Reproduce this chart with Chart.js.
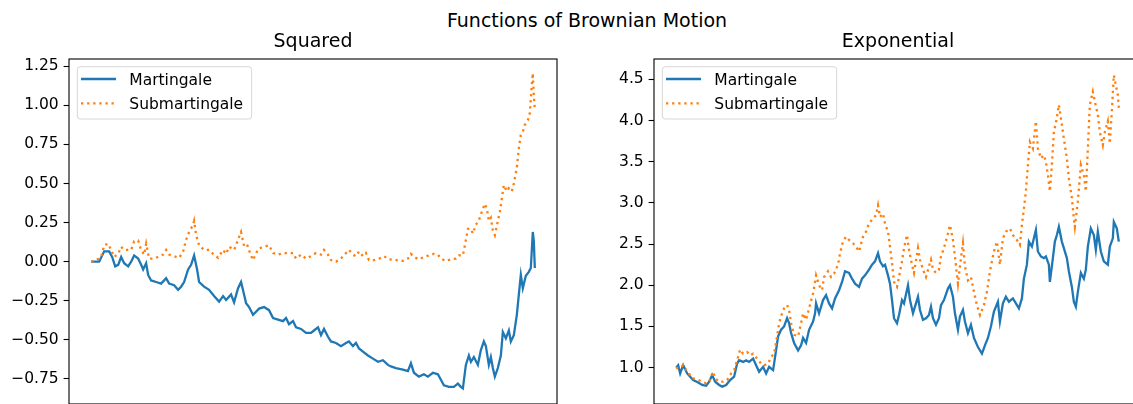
<!DOCTYPE html>
<html>
<head>
<meta charset="utf-8">
<title>Functions of Brownian Motion</title>
<script src="https://cdn.jsdelivr.net/npm/chart.js@4.4.0/dist/chart.umd.min.js"></script>
<style>
    html, body { margin: 0; padding: 0; background: #fff; overflow: hidden; }
    body { width: 1133px; height: 404px; position: relative; font-family: 'DejaVu Sans', sans-serif; }
    #suptitle { position: absolute; left: 587px; top: 9px; transform: translateX(-50%); font-size: 19px; line-height: 22px; color: #000; white-space: nowrap; }
    canvas { position: absolute; top: 0; }
    #chart-squared { left: 0; }
    #chart-exp { left: 585px; }
</style>
</head>
<body>
<div id="suptitle"></div>
<canvas id="chart-squared" width="600" height="420"></canvas>
<canvas id="chart-exp" width="600" height="420"></canvas>
<script>
// Data
// -----------------------------------
var figureTitle = 'Functions of Brownian Motion';
var panelTitles = ['Squared', 'Exponential'];
var seriesNames = ['Martingale', 'Submartingale'];
var seriesColors = ['#1f77b4', '#ff7f0e'];

var sqMartSteps = [0, 8, 13, 18, 21, 24, 27, 30, 33, 37, 40, 43, 47, 50, 52, 55, 57, 60, 65, 70, 75, 78, 83, 87, 90, 93, 97, 100, 103, 106, 108, 113, 118, 123, 128, 132, 135, 140, 143, 147, 150, 153, 155, 158, 162, 165, 168, 173, 178, 182, 187, 192, 195, 198, 202, 205, 210, 215, 220, 223, 227, 230, 233, 237, 240, 245, 250, 255, 258, 262, 265, 268, 272, 277, 282, 287, 292, 297, 300, 305, 312, 317, 320, 323, 328, 333, 337, 342, 347, 350, 353, 358, 363, 367, 370, 372, 375, 378, 380, 383, 387, 390, 393, 395, 398, 400, 402, 404, 407, 410, 412, 415, 418, 420, 423, 426, 428, 430, 432, 435, 438, 440, 442, 443, 444];
var sqMartValues = [0, 0, 0.066, 0.066, 0.03, -0.03, -0.02, 0.03, -0.01, -0.03, 0, 0.04, 0.02, -0.02, -0.05, -0.01, -0.085, -0.12, -0.13, -0.14, -0.105, -0.14, -0.15, -0.18, -0.16, -0.13, -0.05, -0.02, 0.04, -0.05, -0.13, -0.16, -0.18, -0.22, -0.255, -0.22, -0.245, -0.21, -0.26, -0.17, -0.13, -0.21, -0.265, -0.29, -0.34, -0.32, -0.30, -0.29, -0.31, -0.36, -0.37, -0.38, -0.36, -0.40, -0.38, -0.42, -0.43, -0.455, -0.455, -0.44, -0.42, -0.47, -0.43, -0.48, -0.51, -0.52, -0.54, -0.52, -0.51, -0.54, -0.52, -0.555, -0.575, -0.60, -0.62, -0.64, -0.63, -0.66, -0.67, -0.68, -0.69, -0.70, -0.65, -0.71, -0.735, -0.72, -0.735, -0.71, -0.72, -0.755, -0.79, -0.80, -0.80, -0.78, -0.80, -0.81, -0.66, -0.60, -0.64, -0.61, -0.66, -0.565, -0.51, -0.54, -0.66, -0.61, -0.68, -0.735, -0.68, -0.60, -0.45, -0.49, -0.44, -0.51, -0.47, -0.34, -0.21, -0.085, -0.17, -0.09, -0.065, -0.04, 0.19, 0.13, -0.04];

var sqSubSteps = [0, 5, 10, 13, 17, 20, 23, 27, 30, 33, 37, 40, 43, 47, 50, 53, 55, 58, 62, 67, 72, 75, 78, 83, 88, 92, 95, 98, 102, 103, 105, 108, 113, 118, 122, 127, 132, 135, 138, 143, 147, 150, 153, 156, 159, 162, 165, 168, 173, 178, 182, 187, 192, 197, 202, 205, 210, 215, 220, 225, 230, 233, 237, 240, 245, 250, 255, 258, 262, 265, 268, 272, 275, 278, 283, 288, 293, 298, 305, 312, 317, 320, 323, 328, 333, 338, 343, 347, 350, 355, 360, 365, 368, 372, 374, 377, 380, 382, 385, 388, 391, 394, 396, 398, 400, 402, 404, 407, 409, 411, 413, 416, 418, 421, 423, 426, 428, 430, 432, 434, 437, 439, 441, 442, 443, 444];
var sqSubValues = [0, 0.01, 0.03, 0.105, 0.115, 0.075, 0.03, 0.05, 0.095, 0.075, 0.075, 0.075, 0.13, 0.135, 0.075, 0.045, 0.115, 0.02, 0.02, 0.03, 0.045, 0.075, 0.045, 0.035, 0.025, 0.065, 0.14, 0.19, 0.235, 0.26, 0.17, 0.105, 0.075, 0.075, 0.05, 0.025, 0.075, 0.05, 0.095, 0.075, 0.14, 0.19, 0.10, 0.11, 0.055, 0.01, 0.055, 0.085, 0.095, 0.105, 0.055, 0.045, 0.055, 0.055, 0.055, 0.02, 0.045, 0.02, 0.035, 0.055, 0.045, 0.075, 0.045, 0.01, 0.0, 0.02, 0.055, 0.075, 0.045, 0.035, 0.065, 0.035, 0.055, 0.01, 0.01, 0.02, 0.035, 0.015, 0.01, 0.005, 0.02, 0.05, 0.03, 0.015, 0.03, 0.04, 0.05, 0.045, 0.02, 0.005, 0.015, 0.02, 0.04, 0.04, 0.105, 0.21, 0.21, 0.18, 0.235, 0.265, 0.32, 0.37, 0.34, 0.26, 0.28, 0.20, 0.17, 0.26, 0.32, 0.405, 0.49, 0.45, 0.47, 0.45, 0.50, 0.60, 0.725, 0.81, 0.83, 0.875, 0.905, 0.95, 1.13, 1.205, 1.065, 0.97];

var expMartSteps = [0, 2, 4, 7, 11, 14, 17, 22, 26, 30, 33, 36, 39, 43, 46, 50, 54, 58, 61, 63, 67, 70, 73, 77, 80, 83, 87, 90, 93, 97, 99, 102, 105, 108, 111, 113, 115, 118, 122, 125, 127, 130, 133, 137, 139, 140, 143, 147, 150, 153, 156, 159, 163, 166, 169, 173, 176, 179, 183, 186, 189, 193, 196, 199, 202, 204, 207, 209, 212, 214, 216, 218, 221, 223, 226, 228, 232, 234, 237, 239, 242, 244, 247, 250, 253, 255, 257, 260, 263, 265, 268, 272, 274, 277, 279, 282, 284, 287, 289, 292, 295, 298, 302, 306, 309, 312, 315, 318, 322, 324, 327, 330, 333, 337, 340, 343, 346, 348, 351, 353, 356, 358, 360, 362, 365, 368, 370, 373, 374, 377, 379, 381, 383, 386, 388, 391, 393, 396, 398, 400, 402, 405, 408, 410, 412, 415, 418, 420, 422, 425, 428, 432, 434, 437, 438, 441, 443];
var expMartValues = [1.0, 1.03, 0.93, 1.03, 0.93, 0.89, 0.85, 0.82, 0.79, 0.78, 0.83, 0.91, 0.83, 0.79, 0.77, 0.79, 0.85, 0.89, 1.05, 1.09, 1.07, 1.09, 1.07, 1.11, 1.03, 0.95, 1.01, 0.93, 1.01, 0.97, 1.13, 1.38, 1.46, 1.50, 1.60, 1.54, 1.42, 1.30, 1.21, 1.27, 1.36, 1.30, 1.46, 1.56, 1.66, 1.78, 1.66, 1.82, 1.88, 1.78, 1.72, 1.84, 1.94, 2.04, 2.17, 2.15, 2.08, 2.02, 1.98, 2.08, 2.12, 2.19, 2.25, 2.29, 2.39, 2.29, 2.23, 2.25, 2.12, 2.02, 1.82, 1.60, 1.54, 1.64, 1.82, 1.78, 2.00, 1.82, 1.66, 1.74, 1.86, 1.70, 1.58, 1.60, 1.64, 1.74, 1.60, 1.52, 1.60, 1.76, 1.82, 1.96, 2.00, 1.86, 1.66, 1.46, 1.62, 1.70, 1.56, 1.42, 1.52, 1.36, 1.25, 1.17, 1.27, 1.36, 1.50, 1.68, 1.80, 1.56, 1.78, 1.86, 1.80, 1.84, 1.78, 1.72, 1.84, 2.08, 2.25, 2.53, 2.47, 2.57, 2.67, 2.41, 2.35, 2.33, 2.35, 2.25, 2.04, 2.33, 2.53, 2.61, 2.71, 2.53, 2.45, 2.33, 2.17, 1.98, 1.80, 1.74, 1.92, 2.15, 2.08, 2.19, 2.47, 2.69, 2.61, 2.43, 2.65, 2.41, 2.29, 2.25, 2.47, 2.57, 2.77, 2.69, 2.53];

var expSubSteps = [0, 3, 7, 11, 14, 17, 22, 26, 30, 33, 37, 39, 43, 47, 51, 55, 58, 62, 64, 67, 71, 74, 77, 81, 85, 88, 92, 95, 98, 101, 103, 106, 108, 111, 113, 115, 118, 122, 125, 127, 130, 133, 137, 139, 140, 143, 146, 148, 152, 155, 158, 162, 164, 167, 170, 173, 177, 180, 183, 187, 190, 193, 197, 200, 202, 204, 207, 209, 212, 214, 216, 218, 221, 223, 226, 228, 231, 233, 236, 238, 242, 244, 247, 250, 253, 255, 257, 260, 263, 265, 268, 272, 274, 277, 279, 282, 284, 287, 289, 292, 295, 298, 301, 304, 308, 311, 314, 318, 321, 324, 327, 330, 334, 337, 340, 344, 346, 348, 350, 352, 354, 357, 360, 362, 365, 368, 370, 372, 374, 376, 378, 381, 383, 386, 388, 391, 393, 396, 398, 399, 402, 405, 408, 410, 412, 414, 417, 419, 422, 424, 427, 429, 432, 434, 436, 438, 440, 442, 443];
var expSubValues = [1.0, 0.99, 1.03, 0.95, 0.91, 0.87, 0.85, 0.83, 0.81, 0.83, 0.95, 0.87, 0.83, 0.83, 0.85, 0.93, 0.97, 1.13, 1.22, 1.17, 1.19, 1.15, 1.17, 1.11, 1.05, 1.03, 1.05, 1.13, 1.17, 1.38, 1.54, 1.66, 1.72, 1.76, 1.70, 1.54, 1.40, 1.38, 1.54, 1.66, 1.58, 1.72, 1.90, 2.04, 2.12, 2.00, 1.94, 2.10, 2.17, 2.10, 2.14, 2.25, 2.39, 2.53, 2.59, 2.55, 2.51, 2.47, 2.41, 2.59, 2.65, 2.75, 2.81, 2.85, 2.97, 2.83, 2.87, 2.75, 2.65, 2.47, 2.27, 2.04, 1.98, 2.10, 2.29, 2.45, 2.61, 2.43, 2.25, 2.15, 2.45, 2.31, 2.19, 2.10, 2.23, 2.31, 2.19, 2.15, 2.19, 2.35, 2.45, 2.63, 2.73, 2.55, 2.35, 2.02, 2.23, 2.51, 2.23, 2.06, 2.10, 1.92, 1.76, 1.64, 1.76, 1.92, 2.17, 2.41, 2.53, 2.25, 2.57, 2.65, 2.69, 2.61, 2.57, 2.49, 2.73, 2.93, 3.14, 3.46, 3.74, 3.66, 3.99, 3.66, 3.54, 3.58, 3.50, 3.34, 3.14, 3.46, 3.86, 4.03, 4.19, 3.95, 3.78, 3.54, 3.30, 3.06, 2.81, 2.71, 3.02, 3.46, 3.34, 3.14, 3.66, 4.19, 4.35, 4.23, 4.07, 3.86, 3.70, 3.86, 3.99, 3.72, 4.11, 4.55, 4.43, 4.31, 4.15];

var sqTicks = [-0.75, -0.5, -0.25, 0, 0.25, 0.5, 0.75, 1.0, 1.25];
var expTicks = [1.0, 1.5, 2.0, 2.5, 3.0, 3.5, 4.0, 4.5];
var sqLimits = [-0.91, 1.296];
var expLimits = [0.559, 4.746];
var stepLimits = [-22.2, 466.2];

Chart.defaults.font.family = "'DejaVu Sans', sans-serif";
Chart.defaults.font.size = 15.5;
Chart.defaults.color = '#000';

// Axes frame (all four spines)
// -----------------------------------
var framePlugin = {
    id: 'mplFrame',
    afterDatasetsDraw: function (chart) {
        var a = chart.chartArea, ctx = chart.ctx;
        ctx.save();
        ctx.strokeStyle = '#000';
        ctx.lineWidth = 1.1;
        ctx.strokeRect(a.left, a.top, a.right - a.left, a.bottom - a.top);
        ctx.restore();
    }
};

// Legend drawn inside the axes, upper left
// -----------------------------------
var legendPlugin = {
    id: 'mplLegend',
    afterDatasetsDraw: function (chart) {
        var a = chart.chartArea, ctx = chart.ctx;
        var sets = chart.data.datasets;
        ctx.save();
        ctx.font = "15.5px 'DejaVu Sans'";
        var textW = 0;
        sets.forEach(function (ds) {
            textW = Math.max(textW, ctx.measureText(ds.label).width);
        });
        var x = a.left + 8.3, y = a.top + 7.7;
        var w = 52 + textW + 8.5, h = 52.3, r = 3;
        ctx.beginPath();
        ctx.moveTo(x + r, y);
        ctx.arcTo(x + w, y, x + w, y + h, r);
        ctx.arcTo(x + w, y + h, x, y + h, r);
        ctx.arcTo(x, y + h, x, y, r);
        ctx.arcTo(x, y, x + w, y, r);
        ctx.closePath();
        ctx.fillStyle = 'rgba(255,255,255,0.8)';
        ctx.fill();
        ctx.strokeStyle = 'rgba(204,204,204,0.8)';
        ctx.lineWidth = 1;
        ctx.stroke();
        sets.forEach(function (ds, i) {
            var cy = y + 12.3 + i * 24.3;
            ctx.beginPath();
            ctx.setLineDash(ds.borderDash || []);
            ctx.strokeStyle = ds.borderColor;
            ctx.lineWidth = ds.borderWidth;
            ctx.moveTo(x + 3.7, cy);
            ctx.lineTo(x + 38.7, cy);
            ctx.stroke();
            ctx.setLineDash([]);
            ctx.fillStyle = '#000';
            ctx.textBaseline = 'alphabetic';
            ctx.fillText(ds.label, x + 52, y + 18.3 + i * 24.3);
        });
        ctx.restore();
    }
};

function toPoints(steps, values) {
    return steps.map(function (s, i) { return { x: s, y: values[i] }; });
}

function makePanel(id, title, martSteps, martValues, subSteps, subValues, ticks, limits, decimals) {
    return new Chart(document.getElementById(id), {
        type: 'line',
        data: {
            datasets: [{
                label: seriesNames[0],
                data: toPoints(martSteps, martValues),
                borderColor: seriesColors[0],
                borderWidth: 2.3,
                pointRadius: 0,
                tension: 0,
                fill: false,
                order: 1
            }, {
                label: seriesNames[1],
                data: toPoints(subSteps, subValues),
                borderColor: seriesColors[1],
                borderWidth: 2.3,
                borderDash: [2.3, 3.8],
                borderCapStyle: 'butt',
                pointRadius: 0,
                tension: 0,
                fill: false,
                order: 0
            }]
        },
        options: {
            responsive: false,
            animation: false,
            events: [],
            layout: { padding: { left: 0, right: 43, top: 0, bottom: 16 } },
            plugins: {
                legend: { display: false },
                tooltip: { enabled: false },
                title: {
                    display: true,
                    text: title,
                    fullSize: false,
                    color: '#000',
                    font: { size: 19, weight: 'normal' },
                    padding: { top: 30.6, bottom: 5.6 }
                }
            },
            scales: {
                x: {
                    type: 'linear',
                    display: false,
                    min: stepLimits[0],
                    max: stepLimits[1]
                },
                y: {
                    type: 'linear',
                    min: limits[0],
                    max: limits[1],
                    afterFit: function (axis) { axis.width = 69; },
                    afterBuildTicks: function (axis) {
                        axis.ticks = ticks.map(function (v) { return { value: v }; });
                    },
                    border: { display: false },
                    grid: {
                        drawOnChartArea: false,
                        drawTicks: true,
                        tickLength: 5.4,
                        tickColor: '#000',
                        tickWidth: 1.1
                    },
                    ticks: {
                        padding: 4.9,
                        color: '#000',
                        callback: function (v) {
                            return (v < 0 ? '\u2212' : '') + Math.abs(v).toFixed(decimals);
                        }
                    }
                }
            }
        },
        plugins: [framePlugin, legendPlugin]
    });
}

document.getElementById('suptitle').textContent = figureTitle;
makePanel('chart-squared', panelTitles[0], sqMartSteps, sqMartValues, sqSubSteps, sqSubValues, sqTicks, sqLimits, 2);
makePanel('chart-exp', panelTitles[1], expMartSteps, expMartValues, expSubSteps, expSubValues, expTicks, expLimits, 1);
</script>
</body>
</html>
